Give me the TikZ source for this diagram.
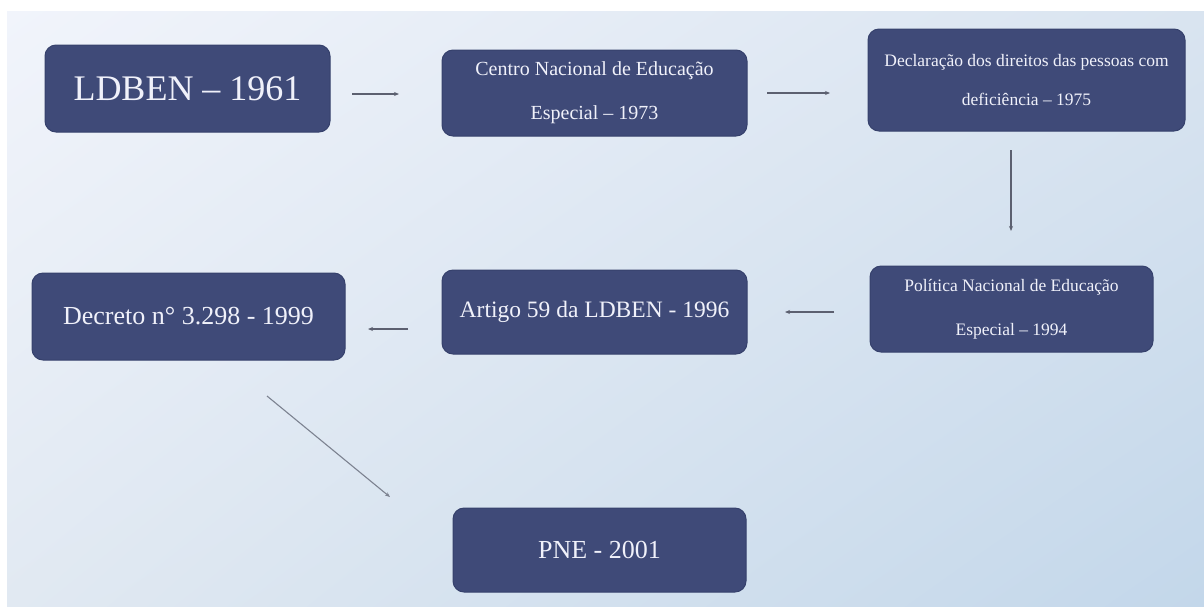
\documentclass[tikz,border=0pt]{standalone}
\usepackage{fontspec}
\setmainfont{Liberation Serif}
\usetikzlibrary{arrows.meta,shadings}
\definecolor{boxfill}{HTML}{3F4A78}
\definecolor{boxline}{HTML}{36416C}
\definecolor{boxtext}{HTML}{F0F1FA}
\definecolor{arrowcol}{HTML}{5C6070}
\definecolor{diagcol}{HTML}{7C8290}
\definecolor{bgul}{HTML}{F1F4FB}
\definecolor{bgur}{HTML}{D9E4F0}
\definecolor{bgll}{HTML}{E1E9F2}
\definecolor{bglr}{HTML}{C3D7EA}
\tikzset{
  stepbox/.style={draw=boxline, line width=1pt, fill=boxfill, rounded corners=11pt,
    text=boxtext, inner sep=0pt, align=center},
  arr/.style={draw=arrowcol, line width=1.1pt, -{Stealth[length=5pt,width=4pt]}},
}
\begin{document}
\begin{tikzpicture}[x=1pt,y=-1pt]
\useasboundingbox (0,0) rectangle (1204,606);
\fill[white] (0,0) rectangle (1204,606);
\shade[upper left=bgul, upper right=bgur, lower left=bgll, lower right=bglr] (7,11) rectangle (1204,606);

\node[stepbox, minimum width=285pt, minimum height=87pt, font=\fontsize{36}{40}\selectfont]
  (b1) at (187.5,88.5) {LDBEN – 1961};
\node[stepbox, minimum width=305pt, minimum height=86pt, font=\fontsize{20}{44}\selectfont]
  (b2) at (594.5,93) {Centro Nacional de Educação\\Especial – 1973};
\node[stepbox, minimum width=317pt, minimum height=102pt, font=\fontsize{17.5}{39}\selectfont]
  (b3) at (1026.5,80) {Declaração dos direitos das pessoas com\\deficiência – 1975};
\node[stepbox, minimum width=283pt, minimum height=86pt, font=\fontsize{17.5}{44}\selectfont]
  (b4) at (1011.5,309) {Política Nacional de Educação\\Especial – 1994};
\node[stepbox, minimum width=305pt, minimum height=84pt, font=\fontsize{23.5}{28}\selectfont]
  (b5) at (594.5,312) {Artigo 59 da LDBEN - 1996};
\node[stepbox, minimum width=313pt, minimum height=87pt, font=\fontsize{26}{30}\selectfont]
  (b6) at (188.5,316.5) {Decreto n° 3.298 - 1999};
\node[stepbox, minimum width=293pt, minimum height=84pt, font=\fontsize{26}{30}\selectfont]
  (b7) at (599.5,550) {PNE - 2001};

\coordinate (a1s) at (352,94);   \coordinate (a1e) at (399,94);
\coordinate (a2s) at (767,93);   \coordinate (a2e) at (830,93);
\coordinate (a3s) at (1011,150); \coordinate (a3e) at (1011,231);
\coordinate (a4s) at (834,312);  \coordinate (a4e) at (785,312);
\coordinate (a5s) at (408,329);  \coordinate (a5e) at (368,329);
\coordinate (a6s) at (267,396);  \coordinate (a6e) at (390,497);

\draw[arr] (a1s) -- (a1e);
\draw[arr] (a2s) -- (a2e);
\draw[arr] (a3s) -- (a3e);
\draw[arr] (a4s) -- (a4e);
\draw[arr] (a5s) -- (a5e);
\draw[arr, draw=diagcol] (a6s) -- (a6e);
\end{tikzpicture}
\end{document}
